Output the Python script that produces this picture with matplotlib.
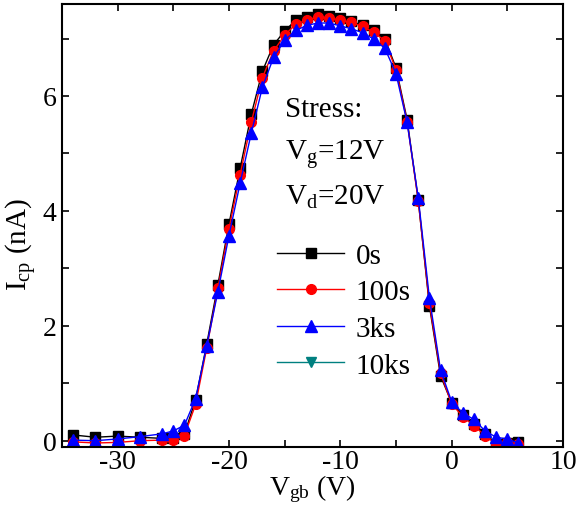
import matplotlib
matplotlib.use("Agg")
import matplotlib.pyplot as plt
from matplotlib.ticker import MultipleLocator

plt.rcParams['font.family'] = ['Liberation Serif', 'DejaVu Serif']
plt.rcParams['mathtext.fontset'] = 'custom'
plt.rcParams['mathtext.rm'] = 'Liberation Serif'
plt.rcParams['mathtext.it'] = 'Liberation Serif'
plt.rcParams['axes.unicode_minus'] = False

# gate-bulk voltage (V)
vgb = [-34, -32, -30, -28, -26, -25, -24, -23, -22, -21, -20, -19, -18, -17, -16,
       -15, -14, -13, -12, -11, -10, -9, -8, -7, -6, -5, -4, -3, -2, -1,
       0, 1, 2, 3, 4, 5, 6]

# charge pumping current (nA)
icp_0s = [0.10, 0.06, 0.08, 0.06, 0.04, 0.04, 0.12, 0.71, 1.68, 2.71, 3.77, 4.74, 5.68, 6.43, 6.89,
          7.13, 7.32, 7.38, 7.42, 7.40, 7.36, 7.30, 7.23, 7.15, 7.00, 6.49, 5.59, 4.19, 2.35, 1.13,
          0.66, 0.45, 0.29, 0.12, -0.05, -0.04, -0.02]
icp_100s = [-0.02, -0.04, -0.03, 0.00, 0.01, 0.02, 0.09, 0.63, 1.61, 2.65, 3.69, 4.63, 5.54, 6.32, 6.78,
            7.06, 7.25, 7.32, 7.38, 7.36, 7.32, 7.28, 7.21, 7.11, 6.96, 6.46, 5.55, 4.18, 2.39, 1.18,
            0.64, 0.42, 0.26, 0.09, -0.06, -0.03, -0.05]
icp_3ks = [0.01, 0.00, 0.03, 0.07, 0.12, 0.17, 0.27, 0.73, 1.65, 2.59, 3.57, 4.48, 5.35, 6.15, 6.67,
           6.97, 7.14, 7.23, 7.27, 7.27, 7.22, 7.17, 7.10, 6.99, 6.83, 6.39, 5.54, 4.23, 2.49, 1.23,
           0.68, 0.48, 0.37, 0.17, 0.06, 0.03, -0.04]
# 10ks series: not visible in the plot, only in the legend
icp_10ks = []
vgb_10ks = []

fig = plt.figure(figsize=(5.76, 5.06), dpi=100)
ax = fig.add_axes([0.1076, 0.1146, 0.8698, 0.8754])

ax.plot(vgb, icp_0s, color='black', marker='s', markersize=6.5, lw=1, label='0s')
ax.plot(vgb, icp_100s, color='red', marker='o', markersize=7, lw=1, label='100s')
ax.plot(vgb, icp_3ks, color='blue', marker='^', markersize=8, lw=1, label='3ks')
ax.plot(vgb_10ks, icp_10ks, color='#008080', marker='v', markersize=7, lw=1, label='10ks')

ax.set_xlim(-35, 10)
ax.set_ylim(-0.11, 7.6)
ax.xaxis.set_major_locator(MultipleLocator(10))
ax.xaxis.set_minor_locator(MultipleLocator(5))
ax.yaxis.set_major_locator(MultipleLocator(2))
ax.yaxis.set_minor_locator(MultipleLocator(1))
ax.tick_params(which='both', direction='in', top=True, right=True, labelsize=20, width=1.2)
ax.tick_params(which='major', length=5, pad=4)
ax.tick_params(which='minor', length=5)
ax.tick_params(axis='x', which='major', pad=1.5)
for s in ax.spines.values():
    s.set_linewidth(1.5)

ax.set_xlabel('V$_{\\rm gb}$ (V)', fontsize=20)
ax.set_ylabel('I$_{\\rm cp}$ (nA)', fontsize=21)
ax.xaxis.set_label_coords(0.5, -0.058)
ax.yaxis.set_label_coords(-0.046, 0.46)
ax.xaxis.label.set_va('top')

ax.text(0.445, 0.762, 'Stress:', transform=ax.transAxes, fontsize=21, va='center', ha='left')
ax.text(0.445, 0.662, 'V$_{\\rm g}$=12V', transform=ax.transAxes, fontsize=21, va='center', ha='left')
ax.text(0.445, 0.565, 'V$_{\\rm d}$=20V', transform=ax.transAxes, fontsize=21, va='center', ha='left')

ax.legend(loc='upper left', bbox_to_anchor=(0.40, 0.495), frameon=False, fontsize=21,
          handlelength=2.3, handletextpad=0.4, labelspacing=0.35, borderpad=0)

fig.savefig('out.png', dpi=100)
